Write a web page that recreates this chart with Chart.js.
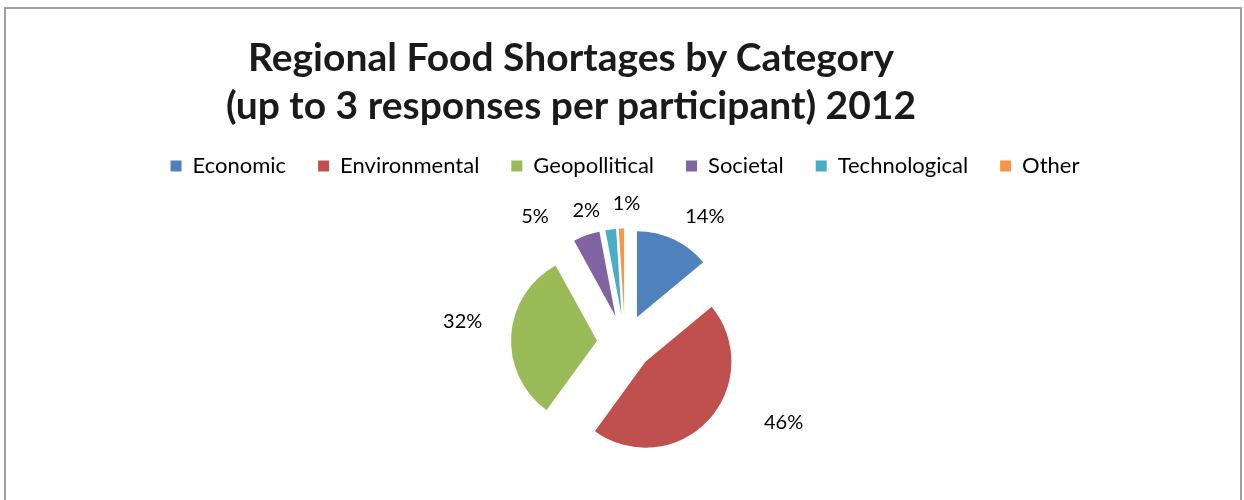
<!DOCTYPE html>
<html>
<head>
<meta charset="utf-8">
<script src="https://cdn.jsdelivr.net/npm/chart.js@4/dist/chart.umd.min.js"></script>
<style>
  body { margin: 0; background: #fff; overflow: hidden; }
  #wrap { position: relative; width: 1244px; height: 500px; }
  #frame {
    position: absolute; left: 4px; top: 7px; width: 1234px; height: 500px;
    border: 2px solid #a0a0a0; border-bottom: none;
  }
  #title {
    position: absolute; left: 0; top: 32px; width: 1142px;
    text-align: center; font: bold 39px Lato, sans-serif; line-height: 48px; color: #1a1a1a;
  }
  #chart { position: absolute; left: 0; top: 0; }
</style>
</head>
<body>
<div id="wrap">
  <div id="frame"></div>
  <canvas id="chart" width="1244" height="500"></canvas>
  <div id="title">Regional Food Shortages by Category<br>(up to 3 responses per participant) 2012</div>
</div>
<script>
// ─── Data ───

var categories = ["Economic", "Environmental", "Geopollitical", "Societal", "Technological", "Other"];
var shares = [14, 46, 32, 5, 2, 1];
var sliceColors = ["#4F81BD", "#C0504D", "#9BBB59", "#8064A2", "#4BACC6", "#F79646"];

// ─── Plugins ───

// Pull every slice out from the centre along its bisector.
var explodePlugin = {
  id: "explode",
  beforeDatasetDraw: function (chart, args, opts) {
    var ctx = chart.ctx;
    args.meta.data.forEach(function (arc) {
      var mid = (arc.startAngle + arc.endAngle) / 2;
      ctx.save();
      ctx.translate(Math.cos(mid) * opts.distance, Math.sin(mid) * opts.distance);
      arc.draw(ctx);
      ctx.restore();
    });
    return false;
  },
};

// Percentage labels outside each exploded slice.
var sliceLabelPlugin = {
  id: "sliceLabels",
  afterDatasetsDraw: function (chart, args, opts) {
    var ctx = chart.ctx;
    var meta = chart.getDatasetMeta(0);
    var values = chart.data.datasets[0].data;
    var total = values.reduce(function (a, b) { return a + b; }, 0);
    var dist = chart.options.plugins.explode.distance;
    ctx.save();
    ctx.font = opts.font;
    ctx.fillStyle = opts.color;
    ctx.textAlign = "center";
    ctx.textBaseline = "middle";
    meta.data.forEach(function (arc, i) {
      var mid = (arc.startAngle + arc.endAngle) / 2;
      var dx = Math.cos(mid), dy = Math.sin(mid);
      var text = Math.round(values[i] / total * 100) + "%";
      var hw = ctx.measureText(text).width / 2;
      var hh = 9;
      var r = dist + arc.outerRadius + opts.pad;
      var nudge = opts.nudge[i] || [0, 0];
      var x = arc.x + dx * r + dx * hw + nudge[0];
      var y = arc.y + dy * r + dy * hh + nudge[1];
      ctx.fillText(text, x, y);
    });
    ctx.restore();
  },
};

// ─── Chart ───

new Chart(document.getElementById("chart"), {
  type: "pie",
  data: {
    labels: categories,
    datasets: [
      {
        data: shares,
        backgroundColor: sliceColors,
        borderWidth: 0,
        radius: 86,
      },
    ],
  },
  options: {
    responsive: false,
    animation: false,
    devicePixelRatio: 1,
    layout: { padding: { top: 123, bottom: 2, left: 6, right: 0 } },
    plugins: {
      tooltip: { enabled: false },
      legend: {
        position: "top",
        labels: {
          font: { family: "Lato", size: 22 },
          color: "#000",
          boxWidth: 11,
          boxHeight: 11,
          padding: 32,
        },
      },
      explode: { distance: 28 },
      sliceLabels: {
        font: "20px Lato",
        color: "#000",
        pad: 14,
        nudge: [[17, -2], [51, -14], [-15, -12], [-42, 3], [-21, 4], [6, -2]],
      },
    },
  },
  plugins: [explodePlugin, sliceLabelPlugin],
});
</script>
</body>
</html>
